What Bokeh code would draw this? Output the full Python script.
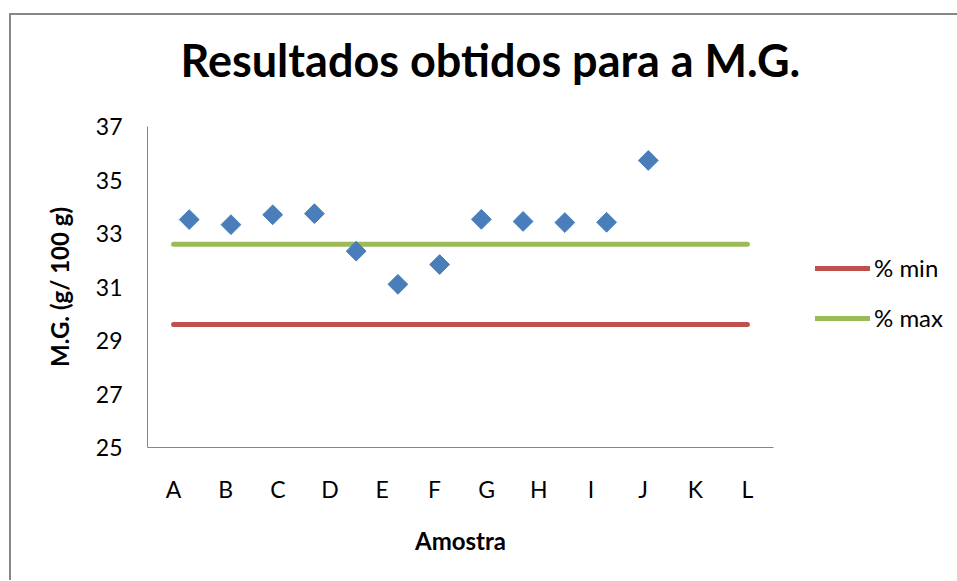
from bokeh.plotting import figure
from bokeh.models import Range1d, FixedTicker, Legend, LegendItem, Title
from bokeh.embed import file_html
from bokeh.resources import INLINE

# ---- data ----
amostras = ["A", "B", "C", "D", "E", "F", "G", "H", "I", "J", "K", "L"]
mg_values = [33.52, 33.33, 33.70, 33.74, 32.34, 31.10, 31.84, 33.53, 33.45, 33.41, 33.42, 35.73]
pct_min = [29.6] * 12
pct_max = [32.6] * 12
y_ticks = [25, 27, 29, 31, 33, 35, 37]
title_text = "Resultados obtidos para a M.G."

FONT = "Lato"

cat_pos = [i + 0.5 for i in range(len(amostras))]       # category centres (primary axis)
scatter_x = [i + 1 for i in range(len(mg_values))]       # secondary x axis 0..15

p = figure(frame_width=626, frame_height=321,
           x_range=Range1d(0, 12), y_range=Range1d(25, 37),
           output_backend="svg", toolbar_location=None,
           min_border_left=136, min_border_right=173,
           min_border_top=111, min_border_bottom=133, title=None)
p.extra_x_ranges = {"sec": Range1d(0, 15)}
p.styles = {"margin-left": "9px", "margin-top": "13px",
            "border-left": "2px solid #878787", "border-top": "2px solid #878787"}

p.outline_line_color = None
p.xgrid.visible = False
p.ygrid.visible = False
p.background_fill_color = "white"
p.border_fill_color = "white"

# spacer between frame and title, then the title itself
spacer = Title(text=" ", text_font_size="1px", standoff=37)
p.add_layout(spacer, "above")
main_title = Title(text=title_text, text_font=FONT, text_font_size="45px",
                   text_font_style="bold", text_color="black",
                   align="left", offset=33, standoff=0)
p.add_layout(main_title, "above")

# lines
r_min = p.line(cat_pos, pct_min, line_color="#C0504D", line_width=5, line_cap="round")
r_max = p.line(cat_pos, pct_max, line_color="#9BBB59", line_width=5, line_cap="round")

# diamonds
p.scatter(scatter_x, mg_values, x_range_name="sec", marker="square", angle=0.785398,
          size=14, fill_color="#4A7EBB", line_color="#4A7EBB")

# x axis
xa = p.xaxis[0]
xa.ticker = FixedTicker(ticks=cat_pos)
xa.major_label_overrides = {c: a for c, a in zip(cat_pos, amostras)}
xa.axis_label = "Amostra"
# y axis
ya = p.yaxis[0]
ya.ticker = FixedTicker(ticks=y_ticks)
ya.axis_label = "M.G. (g/ 100 g)"

for ax in (xa, ya):
    ax.axis_line_color = "#868686"
    ax.axis_line_width = 1
    ax.major_tick_line_color = None
    ax.minor_tick_line_color = None
    ax.major_tick_out = 0
    ax.major_tick_in = 0
    ax.major_label_text_font = FONT
    ax.major_label_text_font_size = "23px"
    ax.major_label_text_color = "black"
    ax.axis_label_text_font = FONT
    ax.axis_label_text_font_size = "24px"
    ax.axis_label_text_font_style = "bold"
    ax.axis_label_text_color = "black"

xa.major_label_standoff = 27
xa.axis_label_standoff = 20
ya.major_label_standoff = 25
ya.axis_label_standoff = 19

legend = Legend(items=[LegendItem(label="% min", renderers=[r_min]),
                       LegendItem(label="% max", renderers=[r_max])],
                location=(42, 115))
legend.border_line_color = None
legend.background_fill_alpha = 0
legend.glyph_width = 55
legend.glyph_height = 20
legend.label_standoff = 4
legend.label_text_font = FONT
legend.label_text_font_size = "24px"
legend.label_text_color = "black"
legend.spacing = 21
legend.padding = 0
legend.margin = 0
p.add_layout(legend, "right")

open("out.html", "w").write(file_html(p, INLINE))
